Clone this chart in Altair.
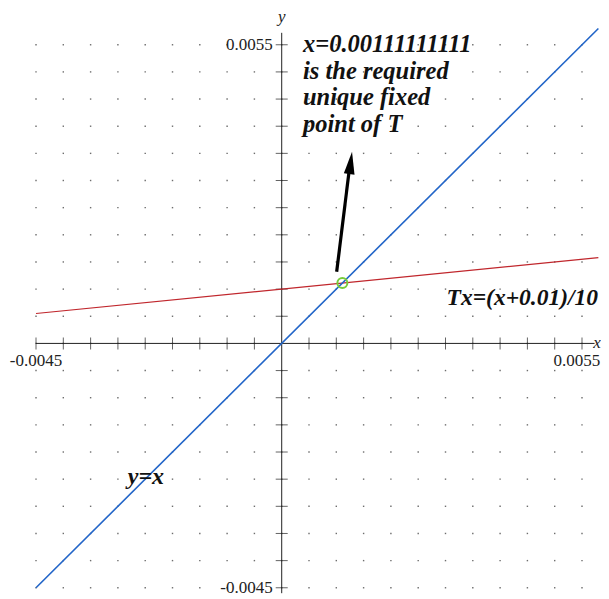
import altair as alt
import pandas as pd

# ---- values ----
tick_vals = [-0.0045, -0.004, -0.0035, -0.003, -0.0025, -0.002, -0.0015, -0.001, -0.0005,
             0.0005, 0.001, 0.0015, 0.002, 0.0025, 0.003, 0.0035, 0.004, 0.0045, 0.005, 0.0055]
grid_vals = tick_vals + [0.0]
label_vals = [-0.0045, 0.0055]
label_texts = ["-0.0045", "0.0055"]

x_axis_span = [-0.0045, 0.00573]
y_axis_span = [-0.0046, 0.00572]

line_x = [-0.0045, 0.0058]
identity_y = [-0.0045, 0.0058]          # y = x
map_y = [0.00055, 0.00158]              # Tx = (x + 0.01)/10

fixed_point = [0.00111111111, 0.00111111111]

arrow_x = [0.001007, 0.00125]
arrow_y = [0.00132, 0.00330]
head_x = [0.001262]
head_y = [0.003324]

note_lines = ["x=0.00111111111", "is the required", "unique fixed", "point of T"]
note_pos = [0.00039, 0.005366]
map_label = "Tx=(x+0.01)/10"
map_label_pos = [0.00302, 0.000705]
id_label = "y=x"
id_label_pos = [-0.00282, -0.00258]

# ---- scales ----
W, H = 593, 591
xsc = alt.Scale(domain=[-0.005013, 0.005848], nice=False, zero=False)
ysc = alt.Scale(domain=[-0.004707, 0.006177], nice=False, zero=False)

def X(f):
    return alt.X(f, type="quantitative", scale=xsc, axis=None)

def Y(f):
    return alt.Y(f, type="quantitative", scale=ysc, axis=None)

SERIF = "Liberation Serif"

grid_df = pd.DataFrame([(a, b) for a in grid_vals for b in grid_vals], columns=["gx", "gy"])
grid = alt.Chart(grid_df).mark_square(size=2, color="#555555", opacity=0.85).encode(
    x=X("gx"), y=Y("gy"))

xaxis = alt.Chart(pd.DataFrame({"a": [x_axis_span[0]], "b": [x_axis_span[1]], "z": [0.0]})).mark_rule(
    color="#222222", strokeWidth=1).encode(x=X("a"), x2="b", y=Y("z"))
yaxis = alt.Chart(pd.DataFrame({"a": [y_axis_span[0]], "b": [y_axis_span[1]], "z": [0.0]})).mark_rule(
    color="#222222", strokeWidth=1).encode(y=Y("a"), y2="b", x=X("z"))

tick_df = pd.DataFrame({"v": tick_vals, "z": [0.0] * len(tick_vals)})
xticks = alt.Chart(tick_df).mark_tick(orient="vertical", size=12, thickness=1, color="#222222").encode(
    x=X("v"), y=Y("z"))
yticks = alt.Chart(tick_df).mark_tick(orient="horizontal", size=12, thickness=1, color="#222222").encode(
    y=Y("v"), x=X("z"))

lab_df = pd.DataFrame({"v": label_vals, "t": label_texts, "z": [0.0, 0.0]})
xlab_left = alt.Chart(lab_df.iloc[[0]]).mark_text(font=SERIF, fontSize=17, color="#222222", dy=18,
                                                  align="center", baseline="middle").encode(
    x=X("v"), y=Y("z"), text="t:N")
xlab_right = alt.Chart(lab_df.iloc[[1]]).mark_text(font=SERIF, fontSize=17, color="#222222", dy=18, dx=-5,
                                                   align="center", baseline="middle").encode(
    x=X("v"), y=Y("z"), text="t:N")
ylabels = alt.Chart(lab_df).mark_text(font=SERIF, fontSize=17, color="#222222", dx=-9,
                                      align="right", baseline="middle").encode(
    y=Y("v"), x=X("z"), text="t:N")

ttl_df = pd.DataFrame({"px": [0.0, 0.005775], "py": [0.00601, 0.0], "t": ["y", "x"]})
titles = alt.Chart(ttl_df).mark_text(font=SERIF, fontSize=17, fontStyle="italic", color="#222222",
                                     align="center", baseline="middle").encode(
    x=X("px"), y=Y("py"), text="t:N")

line_df = pd.DataFrame({"x": line_x, "yi": identity_y, "ym": map_y})
blue = alt.Chart(line_df).mark_line(color="#2265c8", strokeWidth=1.6).encode(x=X("x"), y=Y("yi"))
red = alt.Chart(line_df).mark_line(color="#c0262c", strokeWidth=1.1).encode(x=X("x"), y=Y("ym"))

fp = alt.Chart(pd.DataFrame({"x": [fixed_point[0]], "y": [fixed_point[1]]})).mark_point(
    shape="circle", size=100, filled=False, stroke="#78cc3a", strokeWidth=2, opacity=1).encode(
    x=X("x"), y=Y("y"))

shaft = alt.Chart(pd.DataFrame({"x": arrow_x, "y": arrow_y})).mark_line(
    color="#000000", strokeWidth=3.2).encode(x=X("x"), y=Y("y"))
head = alt.Chart(pd.DataFrame({"x": head_x, "y": head_y})).mark_point(
    shape="M0,-1L0.48,1L-0.48,1Z", size=500, filled=True, color="#000000", opacity=1,
    angle=7.3).encode(x=X("x"), y=Y("y"))

note = alt.Chart(pd.DataFrame({"x": [note_pos[0]], "y": [note_pos[1]]})).mark_text(
    text=note_lines, font=SERIF, fontSize=24.5, fontWeight="bold", fontStyle="italic",
    color="#111111", align="left", baseline="alphabetic", lineHeight=26.5).encode(
    x=X("x"), y=Y("y"))
mlab = alt.Chart(pd.DataFrame({"x": [map_label_pos[0]], "y": [map_label_pos[1]], "t": [map_label]})).mark_text(
    font=SERIF, fontSize=23.5, fontWeight="bold", fontStyle="italic", color="#111111",
    align="left", baseline="alphabetic").encode(x=X("x"), y=Y("y"), text="t:N")
ilab = alt.Chart(pd.DataFrame({"x": [id_label_pos[0]], "y": [id_label_pos[1]], "t": [id_label]})).mark_text(
    font=SERIF, fontSize=24, fontWeight="bold", fontStyle="italic", color="#111111",
    align="left", baseline="alphabetic").encode(x=X("x"), y=Y("y"), text="t:N")

chart = alt.layer(grid, xaxis, yaxis, xticks, yticks, red, blue, fp, shaft, head,
                  xlab_left, xlab_right, ylabels, titles, note, mlab, ilab).properties(
    width=W, height=H, padding=0, autosize=alt.AutoSizeParams(type="none"),
    background="white").configure_view(stroke=None)

chart.save("out.html", embed_options={"renderer": "svg", "actions": False})
